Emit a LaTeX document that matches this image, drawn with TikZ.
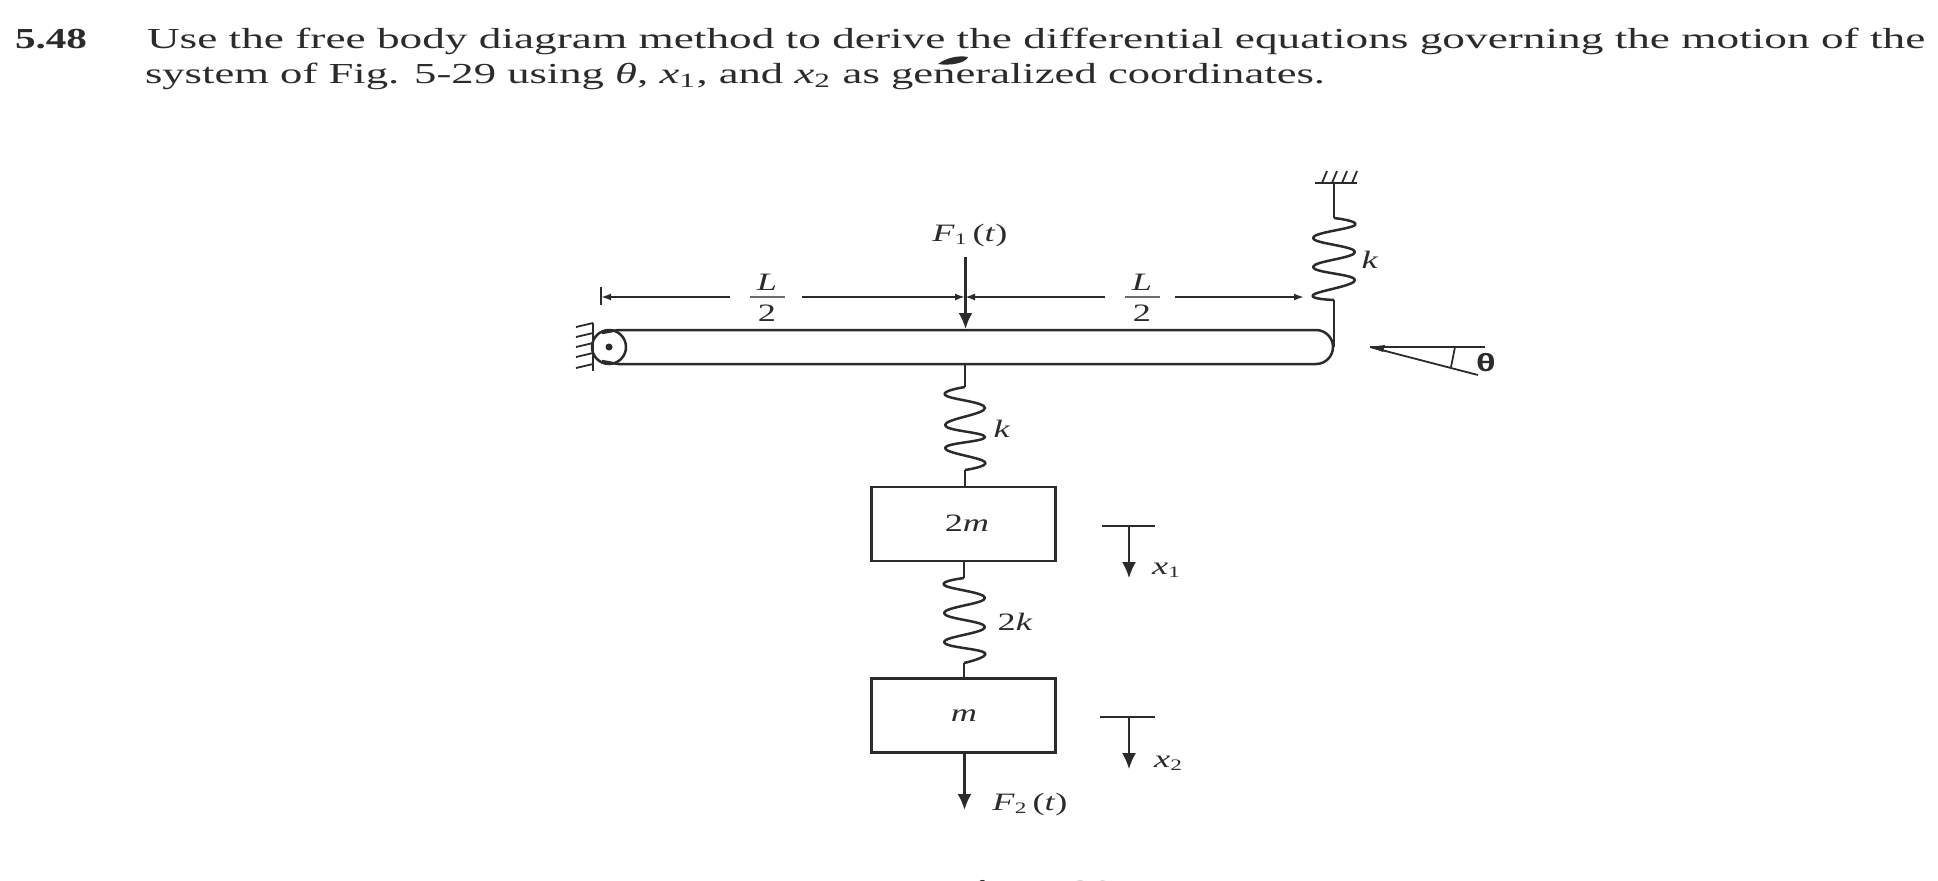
\documentclass[tikz,border=0pt]{standalone}
\usepackage{graphicx}
\usepackage{fontspec}
\setmainfont{Liberation Serif}
\usetikzlibrary{arrows.meta}
\definecolor{ink}{HTML}{2B2B2B}
\newcommand{\sxw}[1]{\scalebox{1.45}[1]{#1}}
\newcommand{\ssub}[1]{\raisebox{-0.3ex}{\fontsize{8}{8}\selectfont #1}}
\tikzset{
  x=0.5pt,y=-0.5pt,
  every node/.style={inner sep=0pt,outer sep=0pt,text=ink},
  ln/.style={draw=ink,line width=1.25pt},
  thin ln/.style={draw=ink,line width=0.9pt},
  force/.style={ln,-{Latex[length=8pt,width=7pt]}},
  dim/.style={thin ln,-{Latex[length=5pt,width=3.5pt]}},
  fig/.style={font=\fontsize{12.5}{12.5}\selectfont},
  body/.style={font=\fontsize{14.5}{14.5}\selectfont,anchor=base west},
  massbox/.style={ln,rectangle,minimum width=92pt,minimum height=37pt},
}
\newcommand{\wavy}[2]{%
  \draw[ln,line join=round] plot[smooth,tension=0.75,shift={(#1)}] coordinates {#2};}
\begin{document}
\begin{tikzpicture}
\useasboundingbox (0,0) rectangle (1938,880);
\fill[white] (0,0) rectangle (1938,880);

% problem text
\node[body] (num) at (15,48) {\resizebox{36pt}{\height}{\bfseries 5.48}};
\node[body] (l1) at (147,48) {\resizebox{889pt}{\height}{Use the free body diagram method to derive the differential equations governing the motion of the}};
\node[body] (l2) at (145,83) {\resizebox{590pt}{\height}{system of Fig. 5-29 using \textit{θ}, \textit{x}\textsubscript{1}, and \textit{x}\textsubscript{2} as generalized coordinates.}};
\fill[ink] (938,64) .. controls (946,58) and (958,55) .. (968,57) .. controls (966,63) and (950,66) .. (938,64) -- cycle;
\begin{scope}
\clip (0,0) rectangle (1938,880);
\node[body,anchor=base] (cap) at (1032,900.5) {\resizebox{82pt}{\height}{\bfseries Fig. 5-29}};
\end{scope}

% bar with pin
\coordinate (barTL) at (618,330);
\coordinate (barBL) at (618,364);
\coordinate (barTR) at (1316,330);
\coordinate (barBR) at (1316,364);
\draw[ln] (barBL) -- (barBR) arc[start angle=90,end angle=-90,radius=17] -- (barTL);
\node[circle,ln,minimum size=17pt] (pin) at (609,347) {};
\node[circle,fill=ink,minimum size=3.5pt] (pindot) at (609,347) {};
\draw[ln] (barTL) -- (602,333);
\draw[ln] (barBL) -- (602,361);
% wall
\coordinate (wallT) at (593,323);
\coordinate (wallB) at (593,371);
\draw[ln] (wallT) -- (wallB);
\foreach \y in {327,337,347,357,368}
  \draw[thin ln] (593,\y-4) -- (576,\y);
% dimension line
\coordinate (tick) at (601,297);
\draw[ln] (601,287) -- (601,305);
\node[fig] (half1n) at (767,282) {\sxw{\textit{L}}};
\node[fig] (half1d) at (767,313) {\sxw{2}};
\draw[thin ln,draw=ink!70] (750,297) -- (785,297);
\node[fig] (half2n) at (1142,282) {\sxw{\textit{L}}};
\node[fig] (half2d) at (1142,313) {\sxw{2}};
\draw[thin ln,draw=ink!70] (1125,297) -- (1160,297);
\coordinate (mid) at (965,297);
\coordinate (dimR) at (1304,297);
\draw[dim,{Latex[length=5pt,width=3.5pt]}-] (tick) -- (730,297);
\draw[dim] (802,297) -- (mid);
\draw[dim] (1105,297) -- (mid);
\draw[dim] (1175,297) -- (dimR);

% force F1
\node[fig] (F1) at (970,235) {\sxw{\textit{F}\ssub{1}\,(\textit{t})}};
\coordinate (F1s) at (965.5,257);
\coordinate (F1e) at (965.5,329);
\draw[force] (F1s) -- (F1e);

% right spring to ground
\coordinate (gnd) at (1334,183);
\draw[ln] (1315,183) -- (1357,183);
\foreach \x in {1322,1332,1342,1352}
  \draw[thin ln] (\x,183) -- (\x+5,171);
\coordinate (sR) at (1334,218);
\coordinate (eR) at (1334,300);
\draw[ln] (gnd) -- (sR);
\wavy{sR}{(0,0) (21,7) (-21,20) (21,34) (-21,49) (21,62) (-21,77) (0,82)}
\draw[ln] (eR) -- (1334,347);
\node[fig] (kR) at (1370,260) {\sxw{\textit{k}}};

% angle
\coordinate (apex) at (1370,347);
\draw[thin ln] (apex) -- (1485,347);
\draw[thin ln] (apex) -- (1478,375);
\draw[thin ln] (1455,347) -- (1451,367);
\fill[ink] (apex) -- (1385,345) -- (1383,352) -- cycle;
\node[font=\fontsize{12.5}{12.5}\selectfont\bfseries] (th) at (1486,363) {\sxw{\fontspec{Liberation Sans}θ}};

% bar to 2m
\coordinate (bt) at (965,364);
\coordinate (s1) at (965,387);
\coordinate (e1) at (965,470);
\draw[ln] (bt) -- (s1);
\wavy{s1}{(0,0) (-20,8) (20,21) (-20,38) (20,50) (-20,61) (20,75) (0,83)}
\node[massbox] (m2) at (963.5,524) {};
\node[fig] (m2t) at (967,523) {\sxw{2\textit{m}}};
\draw[ln] (e1) -- (965,487);
\node[fig] (kB) at (1002,429) {\sxw{\textit{k}}};

% 2m to m
\coordinate (s2) at (964,578);
\coordinate (e2) at (964,663);
\draw[ln] (964,561) -- (s2);
\wavy{s2}{(0,0) (-20,7) (21,20) (-20,35) (21,49) (-20,64) (21,75) (0,85)}
\draw[ln] (e2) -- (964,679);
\node[fig] (k2) at (1015,622) {\sxw{2\textit{k}}};
\node[massbox] (m1) at (963.5,715.5) {};
\node[fig] (m1t) at (964,716) {\sxw{\textit{m}}};

% F2
\coordinate (F2s) at (964.5,752);
\coordinate (F2e) at (964.5,810);
\draw[force] (F2s) -- (F2e);
\node[fig] (F2) at (1030,804) {\sxw{\textit{F}\ssub{2}\,(\textit{t})}};

% x1, x2
\coordinate (x1a) at (1129,526);
\coordinate (x1b) at (1129,578);
\draw[thin ln] (1102,526) -- (1155,526);
\draw[force,line width=0.9pt] (x1a) -- (x1b);
\node[fig] (x1) at (1166,570) {\sxw{\textit{x}\ssub{1}}};
\coordinate (x2a) at (1129,717);
\coordinate (x2b) at (1129,769);
\draw[thin ln] (1100,717) -- (1155,717);
\draw[force,line width=0.9pt] (x2a) -- (x2b);
\node[fig] (x2) at (1168,763) {\sxw{\textit{x}\ssub{2}}};
\end{tikzpicture}
\end{document}
